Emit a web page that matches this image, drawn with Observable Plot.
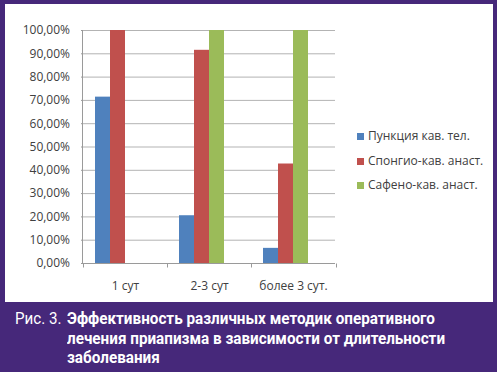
<!DOCTYPE html>
<html>
<head>
<meta charset="utf-8">
<script src="https://cdn.jsdelivr.net/npm/d3@7"></script>
<script src="https://cdn.jsdelivr.net/npm/@observablehq/plot@0.6"></script>
<style>
  html, body { margin: 0; padding: 0; background: #fff; }
  #root { position: relative; width: 497px; height: 372px; background: #46287a; overflow: hidden; }
  #panel { position: absolute; left: 5px; top: 4px; width: 488px; height: 298px; background: #fff; }
  #chart { position: absolute; left: 0; top: 0; }
  .leg { position: absolute; left: 357px; font-family: "Open Sans", sans-serif; font-size: 12px; color: #404040; white-space: nowrap; line-height: 14px; }
  .leg i { position: absolute; left: 0; top: 3px; width: 7px; height: 7px; }
  .leg span { position: absolute; left: 11px; top: -1px; }
  #cap { position: absolute; left: 0; top: 302px; width: 497px; height: 70px; color: #fff; font-family: Roboto, sans-serif; font-size: 16.5px; line-height: 19.5px; }
  #cap .ln { position: absolute; white-space: nowrap; transform-origin: 0 0; }
  #cap .pre { font-weight: normal; }
  #cap .b { font-weight: bold; }
</style>
</head>
<body>
<div id="root">
  <div id="panel"></div>
  <div id="chart"></div>
  <div id="legend"></div>
  <div id="cap"></div>
</div>
<script>
const categories = ["1 сут", "2-3 сут", "более 3 сут."];
const seriesNames = ["Пункция кав. тел.", "Спонгио-кав. анаст.", "Сафено-кав. анаст."];
const punktsiya = [0.714, 0.205, 0.065];
const spongio = [1.0, 0.915, 0.427];
const safeno = [null, 1.0, 1.0];
const seriesColors = ["#4f81bd", "#c0504d", "#9bbb59"];
const yTicks = [0, 0.1, 0.2, 0.3, 0.4, 0.5, 0.6, 0.7, 0.8, 0.9, 1.0];
const fmt = d => (d * 100).toFixed(2).replace(".", ",") + "%";
const captionPrefix = "Рис. 3.";
const captionLines = ["Эффективность различных методик оперативного", "лечения приапизма в зависимости от длительности", "заболевания"];

const seriesValues = [punktsiya, spongio, safeno];
const rows = [];
categories.forEach((c, i) => {
  seriesNames.forEach((s, j) => {
    const v = seriesValues[j][i];
    if (v != null) rows.push({cat: c, series: s, value: v});
  });
});

const chart = Plot.plot({
  width: 497,
  height: 302,
  marginLeft: 82,
  marginRight: 161,
  marginTop: 30,
  marginBottom: 39,
  style: {background: "transparent", fontFamily: "Open Sans, sans-serif", fontSize: "12px", color: "#404040", overflow: "visible"},
  fx: {domain: categories, padding: 0, label: null, axis: null},
  x: {domain: seriesNames, paddingInner: 0, paddingOuter: 1.25, align: 0.3, axis: null},
  y: {domain: [0, 1], label: null},
  color: {domain: seriesNames, range: seriesColors},
  marks: [
    Plot.gridY(yTicks, {stroke: "#b3b3b3", strokeOpacity: 1}),
    Plot.barY(rows, {fx: "cat", x: "series", y: "value", fill: "series"}),
    Plot.ruleY([0], {stroke: "#9a9a9a"}),
    Plot.axisY(yTicks, {tickSize: 2, tickPadding: 11.5, tickFormat: fmt, stroke: "#9a9a9a", fill: "#404040", label: null}),
    Plot.axisFx({anchor: "bottom", tickSize: 0, tickPadding: 18, label: null, fill: "#404040"})
  ]
});

// axis line and category boundary ticks from Plot's own scales
const fxs = chart.scale("fx");
const ys = chart.scale("y");
const svg = d3.select(chart);
const g = svg.append("g").attr("stroke", "#9a9a9a").attr("stroke-width", 1);
const x0 = fxs.range[0] + 0.5;
g.append("line").attr("x1", x0).attr("x2", x0).attr("y1", ys.apply(1)).attr("y2", ys.apply(0) + 0.5);
const bounds = categories.map(c => fxs.apply(c)).concat([fxs.range[1]]);
bounds.forEach(b => {
  g.append("line").attr("x1", b + 0.5).attr("x2", b + 0.5).attr("y1", ys.apply(0) + 0.5).attr("y2", ys.apply(0) + 4.5);
});

document.getElementById("chart").appendChild(chart);

// legend
const legendTops = [130, 154.5, 179];
const leg = document.getElementById("legend");
seriesNames.forEach((s, i) => {
  const d = document.createElement("div");
  d.className = "leg";
  d.style.top = legendTops[i] + "px";
  d.innerHTML = `<i style="background:${seriesColors[i]}"></i><span>${s}</span>`;
  leg.appendChild(d);
});

// caption (condensed by horizontal scaling)
const cap = document.getElementById("cap");
const pre = document.createElement("div");
pre.className = "ln pre";
pre.textContent = captionPrefix;
pre.style.left = "15px"; pre.style.top = "7px";
cap.appendChild(pre);
const preScale = 46.5 / pre.getBoundingClientRect().width;
pre.style.transform = `scaleX(${preScale})`;
const lineTops = [7, 27, 46];
const lineEls = captionLines.map((t, i) => {
  const el = document.createElement("div");
  el.className = "ln b";
  el.textContent = t;
  el.style.left = "67px"; el.style.top = lineTops[i] + "px";
  cap.appendChild(el);
  return el;
});
const bScale = 368 / lineEls[0].getBoundingClientRect().width;
lineEls.forEach(el => el.style.transform = `scaleX(${bScale})`);
</script>
</body>
</html>
